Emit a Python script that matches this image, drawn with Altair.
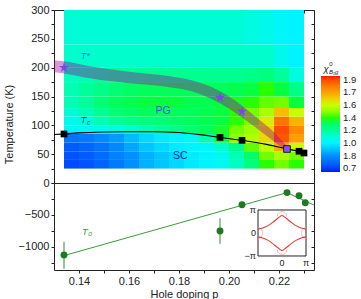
import altair as alt
import pandas as pd

# ---------------------------------------------------------------- data ---
# B1g Raman response map: one list per temperature band, lowest T first.
# Values are positions on the colour bar (0 = bottom/blue ... 7 = top/red).
p_edges = [0.134, 0.140, 0.146, 0.152, 0.158, 0.164, 0.170, 0.176, 0.182,
           0.188, 0.194, 0.200, 0.206, 0.212, 0.218, 0.224, 0.230]
t_edges = [25, 40, 55, 70, 85, 100, 115, 130, 150, 175, 200, 240, 300]
chi_t25 = [0.1, 0.2, 0.4, 0.7, 1.0, 1.3, 1.5, 1.7, 1.9, 2.0, 2.2, 2.7, 3.3, 4.0, 4.3, 4.0]
chi_t40 = [0.2, 0.3, 0.5, 0.8, 1.0, 1.3, 1.5, 1.7, 1.9, 2.0, 2.2, 2.8, 3.5, 4.3, 4.7, 4.3]
chi_t55 = [0.3, 0.4, 0.6, 0.9, 1.2, 1.5, 1.7, 1.9, 2.0, 2.1, 2.6, 3.2, 4.2, 4.9, 5.9, 5.0]
chi_t70 = [0.6, 0.7, 0.9, 1.1, 1.4, 1.7, 1.9, 2.0, 2.2, 2.8, 3.8, 4.5, 4.8, 5.4, 6.9, 6.0]
chi_t85 = [2.1, 2.2, 2.3, 2.4, 2.6, 2.8, 3.0, 3.2, 3.4, 3.6, 3.9, 4.3, 4.6, 5.4, 7.0, 6.3]
chi_t100 = [2.3, 2.5, 2.8, 3.0, 3.2, 3.3, 3.4, 3.5, 3.6, 3.7, 3.8, 4.0, 4.3, 5.2, 6.6, 5.8]
chi_t115 = [2.5, 2.8, 3.1, 3.4, 3.5, 3.6, 3.6, 3.6, 3.6, 3.7, 3.8, 4.0, 4.3, 4.7, 5.7, 5.0]
chi_t130 = [2.8, 3.0, 3.4, 3.6, 3.7, 3.8, 3.8, 3.8, 3.7, 3.7, 3.8, 3.9, 4.0, 4.2, 4.3, 3.8]
chi_t150 = [2.8, 3.0, 3.2, 3.4, 3.5, 3.6, 3.6, 3.6, 3.6, 3.6, 3.6, 3.7, 3.8, 4.0, 3.8, 3.2]
chi_t175 = [2.7, 2.8, 2.9, 3.0, 3.0, 3.1, 3.1, 3.1, 3.1, 3.1, 3.1, 3.1, 3.2, 3.3, 3.0, 2.4]
chi_t200 = [2.6, 2.6, 2.6, 2.6, 2.6, 2.6, 2.6, 2.6, 2.6, 2.6, 2.6, 2.6, 2.6, 2.6, 2.3, 2.0]
chi_t240 = [2.5, 2.5, 2.5, 2.5, 2.5, 2.5, 2.5, 2.5, 2.5, 2.5, 2.5, 2.5, 2.4, 2.3, 2.1, 2.0]
chi_rows = [chi_t25, chi_t40, chi_t55, chi_t70, chi_t85, chi_t100, chi_t115,
            chi_t130, chi_t150, chi_t175, chi_t200, chi_t240]

# colour bar tick labels, bottom to top
bar_labels = ["0.7", "1.8", "1.0", "1.2", "1.4", "1.6", "1.7", "1.9"]

# superconducting Tc (squares) and its guide line
tc_p = [0.134, 0.1964, 0.2052, 0.228, 0.230]
tc_T = [85, 79, 74, 55, 52]
tc_end_p = [0.2232]
tc_end_T = [59]
tc_fit_p = [0.130, 0.140, 0.150, 0.160, 0.170, 0.180, 0.190, 0.1964, 0.2052,
            0.215, 0.2232, 0.228, 0.2305]
tc_fit_T = [84, 87, 88.5, 89, 89, 87.6, 83, 79, 74, 67, 59, 55, 52]

# pseudogap T* (stars) and its shaded band
star_p = [0.134, 0.1964, 0.2052]
star_T = [200, 148, 124]
band_p = [0.130, 0.134, 0.145, 0.160, 0.175, 0.185, 0.196, 0.205, 0.212, 0.218, 0.2232]
band_hi = [213, 211, 202, 193, 186, 178, 160, 135, 110, 88, 64]
band_lo = [192, 190, 181, 173, 167, 159, 139, 114, 92, 72, 55]

# T0 (lower panel)
t0_p = [0.134, 0.1964, 0.2052, 0.2232, 0.228, 0.2305]
t0_val = [-1125, -750, -340, -150, -200, -310]
t0_lo = [-1340, -950, -380, -185, -235, -345]
t0_hi = [-920, -550, -300, -115, -165, -275]
t0_fit_p = [0.134, 0.2232, 0.234]
t0_fit_val = [-1135, -150, -345]

# Fermi-surface inset, momenta in units of pi
fs_kx = [-1, -0.8, -0.6, -0.4, -0.2, -0.1, 0, 0.1, 0.2, 0.4, 0.6, 0.8, 1]
fs_ky_up = [0.17, 0.22, 0.31, 0.45, 0.62, 0.70, 0.76, 0.70, 0.62, 0.45, 0.31, 0.22, 0.17]
fs_ky_dn = [-0.17, -0.22, -0.31, -0.45, -0.62, -0.70, -0.76, -0.70, -0.62, -0.45, -0.31, -0.22, -0.17]
bump_top_kx = [-0.2, -0.17, -0.1, 0, 0.1, 0.17, 0.2]
bump_top_ky = [0.72, 0.83, 0.90, 0.93, 0.90, 0.83, 0.72]
bump_bot_ky = [-0.72, -0.83, -0.90, -0.93, -0.90, -0.83, -0.72]
bump_side_ky = [0.25, 0.2, 0.1, 0, -0.1, -0.2, -0.25]
bump_left_kx = [-1, -0.9, -0.83, -0.81, -0.83, -0.9, -1]
bump_right_kx = [1, 0.9, 0.83, 0.81, 0.83, 0.9, 1]

# ------------------------------------------------------------- tables ---
cells = pd.DataFrame([
    dict(p0=p_edges[j], p1=p_edges[j + 1], t0=t_edges[i], t1=t_edges[i + 1], chi=v)
    for i, row in enumerate(chi_rows) for j, v in enumerate(row)
])
tc_df = pd.DataFrame({"p": tc_p, "T": tc_T})
tc_end_df = pd.DataFrame({"p": tc_end_p, "T": tc_end_T})
tc_fit_df = pd.DataFrame({"p": tc_fit_p, "T": tc_fit_T})
star_df = pd.DataFrame({"p": star_p, "T": star_T})
band_df = pd.DataFrame({"p": band_p, "hi": band_hi, "lo": band_lo})
t0_df = pd.DataFrame({"p": t0_p, "v": t0_val, "lo": t0_lo, "hi": t0_hi})
t0_fit_df = pd.DataFrame({"p": t0_fit_p, "v": t0_fit_val})

fs_rows = []
for seg, xs_, ys_ in [("up", fs_kx, fs_ky_up), ("dn", fs_kx, fs_ky_dn)]:
    fs_rows += [dict(seg=seg, i=k, kx=a, ky=b) for k, (a, b) in enumerate(zip(xs_, ys_))]
fs_df = pd.DataFrame(fs_rows)
bump_rows = []
for seg, xs_, ys_ in [("t", bump_top_kx, bump_top_ky), ("b", bump_top_kx, bump_bot_ky),
                      ("l", bump_left_kx, bump_side_ky), ("r", bump_right_kx, bump_side_ky)]:
    bump_rows += [dict(seg=seg, i=k, kx=a, ky=b) for k, (a, b) in enumerate(zip(xs_, ys_))]
bump_df = pd.DataFrame(bump_rows)

# ------------------------------------------------------------- scales ---
FONT = "Liberation Sans"
P_DOM = [0.13, 0.234]
xs = alt.Scale(domain=P_DOM, nice=False, zero=False)
ys_top = alt.Scale(domain=[0, 300], nice=False, zero=False)
ys_bot = alt.Scale(domain=[-1360, 0], nice=False, zero=False)
chi_scale = alt.Scale(
    type="linear",
    domain=[-0.3, 1, 2, 3, 4, 5, 6, 7.3],
    range=["#0018f0", "#0090ff", "#00f4ff", "#00ff98", "#28ff00", "#c8ff00", "#ffa000", "#ff1800"],
)
label_js = "[" + ",".join("'%s'" % s for s in bar_labels) + "][datum.value]"

STAR = ("M0,-1L0.2245,-0.309L0.951,-0.309L0.363,0.118L0.588,0.809L0,0.382"
        "L-0.588,0.809L-0.363,0.118L-0.951,-0.309L-0.2245,-0.309Z")

p_ticks = [0.14, 0.15, 0.16, 0.17, 0.18, 0.19, 0.20, 0.21, 0.22, 0.23]
T_ticks = list(range(0, 301, 25))
v_ticks = list(range(-1250, 1, 250))


def mirror_axis(orient, values):
    return alt.Axis(orient=orient, values=values, labels=False, domain=False, grid=False,
                    ticks=True, tickSize=3, offset=-3, title=None, tickColor="#222")


# ---------------------------------------------------------- top panel ---
y_axis_top = alt.Axis(values=T_ticks, title="Temperature (K)", tickSize=3, labelPadding=2,
                      grid=False, domain=False, titleX=-40, titleY=114,
                      labelExpr="datum.value % 50 == 0 && datum.value > 0 ? datum.label : ''")
X = lambda f: alt.X(f, type="quantitative", scale=xs, axis=None)
Y = lambda f: alt.Y(f, type="quantitative", scale=ys_top, axis=y_axis_top)

heat = alt.Chart(cells).mark_rect().encode(
    x=X("p0"), x2="p1", y=Y("t0"), y2="t1",
    color=alt.Color("chi:Q", scale=chi_scale,
                    legend=alt.Legend(type="gradient", orient="none", legendX=267, legendY=66,
                                      direction="vertical", gradientLength=96, gradientThickness=19,
                                      values=list(range(8)), labelExpr=label_js, title=None,
                                      labelFontSize=9.5, labelFont=FONT, labelOffset=3,
                                      labelOverlap=False, gradientStrokeWidth=0,
                                      labelColor="#222")),
)
band = alt.Chart(band_df).mark_area(color="#960096", fillOpacity=0.4, interpolate="monotone").encode(
    x=X("p"), y=Y("hi"), y2="lo")
tc_line = alt.Chart(tc_fit_df).mark_line(color="black", strokeWidth=1.1, interpolate="monotone").encode(
    x=X("p"), y=Y("T"))
tc_pts = alt.Chart(tc_df).mark_square(size=45, color="black", opacity=1).encode(x=X("p"), y=Y("T"))
tc_end = alt.Chart(tc_end_df).mark_point(shape="square", size=45, filled=True, fill="#8a4dff",
                                         stroke="black", strokeWidth=0.8, opacity=1).encode(
    x=X("p"), y=Y("T"))
stars = alt.Chart(star_df).mark_point(shape=STAR, size=110, filled=True, color="#7b45e8", opacity=1).encode(
    x=X("p"), y=Y("T"))


def label(p, T, text, **kw):
    return alt.Chart(pd.DataFrame({"p": [p], "T": [T], "s": [text]})).mark_text(
        font=FONT, **kw).encode(x=X("p"), y=Y("T"), text="s:N")


lab_tstar = label(0.1425, 220, "T*", fontSize=9, fontStyle="italic", color="#2f6bd0")
lab_tc = label(0.1418, 110, "T", fontSize=9.5, fontStyle="italic", color="#233f8f")
lab_tc_sub = label(0.1418, 110, "c", fontSize=6.5, fontStyle="italic", color="#233f8f", dx=5, dy=3)
lab_pg = label(0.1736, 124, "PG", fontSize=10.5, color="#2b5fcf")
lab_sc = label(0.1805, 46, "SC", fontSize=10.5, color="#16308a")
lab_chi = label(0.2388, 198, "\u03c7", fontSize=9.5, fontStyle="italic", color="#222")
lab_chi_sup = label(0.2388, 198, "0", fontSize=6, color="#222", dx=5, dy=-5)
lab_chi_sub = label(0.2388, 198, "B\u2081g", fontSize=6, fontStyle="italic", color="#222",
                    dx=3, dy=3, align="left")

main_top = alt.layer(heat, band, tc_line, tc_pts, tc_end, stars, lab_tstar, lab_tc, lab_tc_sub,
                     lab_pg, lab_sc, lab_chi, lab_chi_sup, lab_chi_sub)
mirror_top = alt.Chart(pd.DataFrame({"p": [0.18], "T": [150]})).mark_point(opacity=0).encode(
    x=alt.X("p:Q", scale=xs, axis=mirror_axis("top", p_ticks)),
    y=alt.Y("T:Q", scale=ys_top, axis=mirror_axis("right", T_ticks)),
)
top = alt.layer(main_top, mirror_top).resolve_scale(x="independent", y="independent").properties(
    width=260, height=173)

# ------------------------------------------------------- bottom panel ---
x_axis_b = alt.Axis(values=p_ticks, format=".2f", domain=False,
                    labelExpr="round(datum.value * 100) % 2 == 0 ? datum.label : ''",
                    title="Hole doping p", tickSize=3, labelPadding=2, titlePadding=2, grid=False)
y_axis_b = alt.Axis(values=v_ticks, format="d", domain=False,
                    labelExpr="datum.value % 500 == 0 ? datum.label : ''",
                    title=None, tickSize=3, labelPadding=2, grid=False)
XB = lambda f: alt.X(f, type="quantitative", scale=xs, axis=x_axis_b)
YB = lambda f: alt.Y(f, type="quantitative", scale=ys_bot, axis=y_axis_b)

t0_line = alt.Chart(t0_fit_df).mark_line(color="#3a9a3a", strokeWidth=1).encode(
    x=XB("p"), y=YB("v"))
t0_err = alt.Chart(t0_df).mark_rule(color="#2e8b2e", strokeWidth=1).encode(
    x=XB("p"), y=YB("lo"), y2="hi")
t0_pts = alt.Chart(t0_df).mark_circle(size=48, color="#1c7c1c", opacity=1).encode(
    x=XB("p"), y=YB("v"))
t0_lab = alt.Chart(pd.DataFrame({"p": [0.1432], "v": [-765], "s": ["T\u2080"]})).mark_text(
    font=FONT, fontSize=9.5, fontStyle="italic", color="#3a9a3a").encode(
    x=XB("p"), y=YB("v"), text="s:N")
main_bot = alt.layer(t0_line, t0_err, t0_pts, t0_lab)

mirror_bot = alt.Chart(pd.DataFrame({"p": [0.18], "v": [-500]})).mark_point(opacity=0).encode(
    x=alt.X("p:Q", scale=xs, axis=None),
    y=alt.Y("v:Q", scale=ys_bot, axis=mirror_axis("right", v_ticks)),
)

# Fermi-surface inset with its own momentum scales
kxs = alt.Scale(domain=[-9.5, 1.333], nice=False, zero=False)
kys = alt.Scale(domain=[-1.609, 2.174], nice=False, zero=False)
KX = lambda f: alt.X(f, type="quantitative", scale=kxs, axis=None)
KY = lambda f: alt.Y(f, type="quantitative", scale=kys, axis=None)
frame = alt.Chart(pd.DataFrame({"a": [-1], "b": [1]})).mark_rect(
    fill="white", stroke="#222", strokeWidth=1).encode(x=KX("a"), x2="b", y=KY("a"), y2="b")
fs_main = alt.Chart(fs_df).mark_line(color="#e03a3a", strokeWidth=1.1, interpolate="monotone").encode(
    x=KX("kx"), y=KY("ky"), detail="seg:N", order="i:Q")
fs_bump = alt.Chart(bump_df).mark_line(color="#f3a2aa", strokeWidth=0.8, interpolate="monotone").encode(
    x=KX("kx"), y=KY("ky"), detail="seg:N", order="i:Q")
ins_left = alt.Chart(pd.DataFrame({"kx": [-1, -1, -1], "ky": [1, 0, -1],
                                   "s": ["\u03c0", "0", "\u2212\u03c0"]})).mark_text(
    font=FONT, fontSize=9, align="right", dx=-2, color="#222").encode(
    x=KX("kx"), y=KY("ky"), text="s:N")
ins_bot = alt.Chart(pd.DataFrame({"kx": [0, 1], "ky": [-1, -1], "s": ["0", "\u03c0"]})).mark_text(
    font=FONT, fontSize=9, baseline="top", dy=3, color="#222").encode(
    x=KX("kx"), y=KY("ky"), text="s:N")
inset = alt.layer(frame, fs_bump, fs_main, ins_left, ins_bot)

bottom = alt.layer(main_bot, mirror_bot, inset).resolve_scale(
    x="independent", y="independent").properties(width=260, height=87)

# -------------------------------------------------------------- figure ---
chart = alt.vconcat(top, bottom, spacing=0, bounds="flush").properties(
    padding={"left": 2, "top": 3, "right": 2, "bottom": 0}
).configure_view(stroke="#222", strokeWidth=1).configure_axis(
    labelFont=FONT, labelFontSize=11, labelColor="#222", titleFont=FONT, titleFontSize=11,
    titleFontWeight="normal", titleColor="#222", domainColor="#222", tickColor="#222",
)

chart.save("out.html", embed_options={"renderer": "svg", "actions": False})
